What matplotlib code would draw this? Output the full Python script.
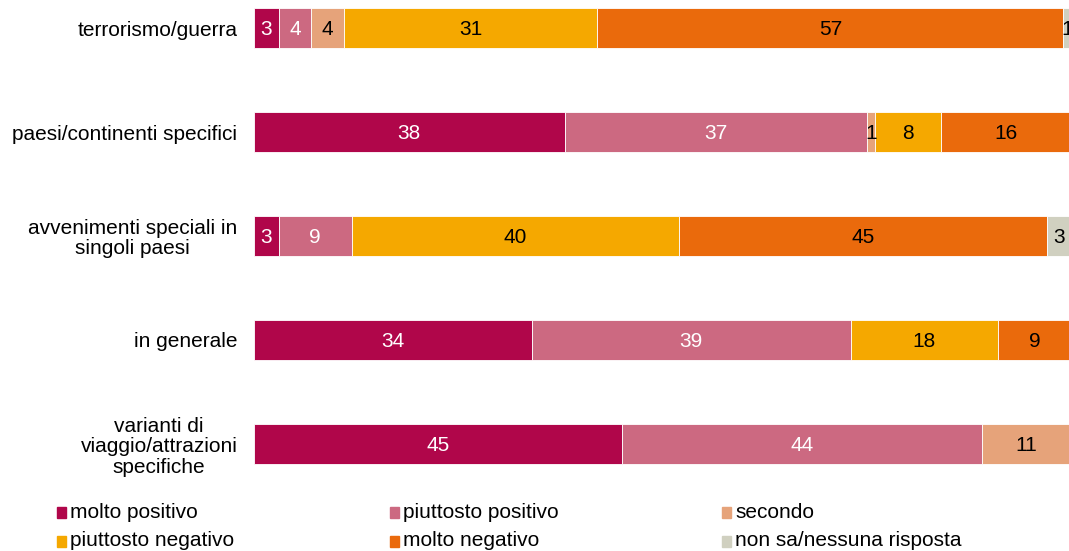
import matplotlib.pyplot as plt
from matplotlib.patches import Rectangle

plt.rcParams['font.family'] = ['Liberation Sans', 'DejaVu Sans']

categorie = ['terrorismo/guerra', 'paesi/continenti specifici',
             'avvenimenti speciali in\nsingoli paesi', 'in generale',
             'varianti di\nviaggio/attrazioni\nspecifiche']
serie = ['molto positivo', 'piuttosto positivo', 'secondo',
         'piuttosto negativo', 'molto negativo', 'non sa/nessuna risposta']
molto_positivo = [3, 38, 3, 34, 45]
piuttosto_positivo = [4, 37, 9, 39, 44]
secondo = [4, 1, 0, 0, 11]
piuttosto_negativo = [31, 8, 40, 18, 0]
molto_negativo = [57, 16, 45, 9, 0]
non_sa = [1, 0, 3, 0, 0]
valori = [molto_positivo, piuttosto_positivo, secondo,
          piuttosto_negativo, molto_negativo, non_sa]

colori = ['#B0064A', '#CC6981', '#E6A37A', '#F5A800', '#EA6A0C', '#D0D0C0']
colori_testo = ['white', 'white', 'black', 'black', 'black', 'black']

fig = plt.figure(figsize=(10.69, 5.51), dpi=100)
ax = fig.add_axes([254 / 1069, 1 - 464.8 / 551, 1 - 254 / 1069, 457.6 / 551])

y = list(range(len(categorie)))
sinistra = [0] * len(categorie)
for vals, col, tcol in zip(valori, colori, colori_testo):
    ax.barh(y, vals, left=sinistra, height=0.39, color=col,
            edgecolor='white', linewidth=0.6)
    for i, v in enumerate(vals):
        if v > 0:
            ax.text(sinistra[i] + v / 2, i + 0.01, str(v), ha='center', va='center',
                    fontsize=15, color=tcol, clip_on=False)
    sinistra = [s + v for s, v in zip(sinistra, vals)]

ax.set_xlim(0, 99.7)
ax.set_ylim(4.2, -0.2)
ax.set_yticks(y)
ax.set_yticklabels(categorie, fontsize=15, multialignment='center',
                   linespacing=1.1)
ax.tick_params(axis='y', length=0, pad=12)
ax.set_xticks([])
for s in ax.spines.values():
    s.set_visible(False)

# legenda
x_col = [57, 390, 722]
y_riga = [512, 541]
for k, nome in enumerate(serie):
    xc = x_col[k % 3]
    yc = y_riga[k // 3]
    fig.patches.append(Rectangle((xc / 1069, 1 - (yc + 6) / 551), 9 / 1069, 11 / 551,
                                 transform=fig.transFigure, color=colori[k]))
    fig.text((xc + 13) / 1069, 1 - yc / 551, nome, fontsize=15, va='center', ha='left')

fig.savefig('out.png', dpi=100)
